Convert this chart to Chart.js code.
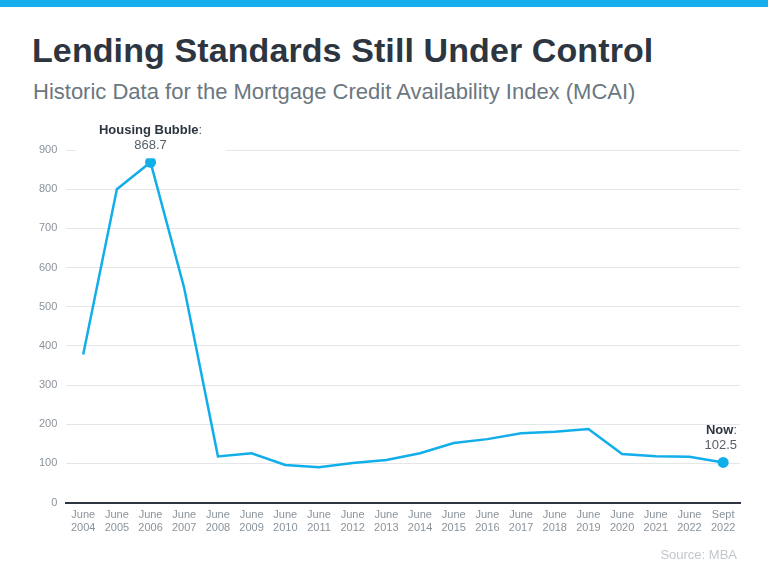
<!DOCTYPE html>
<html>
<head>
<meta charset="utf-8">
<script src="https://cdn.jsdelivr.net/npm/chart.js@4"></script>
<style>
  body { margin: 0; width: 768px; height: 576px; background: #fff; position: relative; overflow: hidden; font-family: "Liberation Sans", Arial, sans-serif; }
  .topbar { position: absolute; left: 0; top: 0; width: 768px; height: 7px; background: #16aeec; }
  h1 { position: absolute; left: 32px; top: 31px; margin: 0; font-size: 34px; font-weight: bold; color: #2d3640; letter-spacing: 0.1px; white-space: nowrap; }
  h2 { position: absolute; left: 33px; top: 79px; margin: 0; font-size: 22px; font-weight: normal; color: #6b7780; letter-spacing: 0; white-space: nowrap; }
  .source { position: absolute; right: 31px; top: 547px; font-size: 13px; color: #c3c7cb; }
  #wrap { position: absolute; left: 0; top: 0; width: 768px; height: 576px; }
</style>
</head>
<body>
<div class="topbar"></div>
<h1>Lending Standards Still Under Control</h1>
<h2>Historic Data for the Mortgage Credit Availability Index (MCAI)</h2>
<div id="wrap"><canvas id="mcaiChart"></canvas></div>
<div class="source">Source: MBA</div>
<script>
// ============================
// DATA
// ============================

const periods = [
    ['June', '2004'], ['June', '2005'], ['June', '2006'], ['June', '2007'],
    ['June', '2008'], ['June', '2009'], ['June', '2010'], ['June', '2011'],
    ['June', '2012'], ['June', '2013'], ['June', '2014'], ['June', '2015'],
    ['June', '2016'], ['June', '2017'], ['June', '2018'], ['June', '2019'],
    ['June', '2020'], ['June', '2021'], ['June', '2022'], ['Sept', '2022']
];

const mcai = [378, 800, 868.7, 547, 118, 126, 96, 90, 101, 109,
              126, 152, 162, 177, 181, 188, 124, 118, 117, 102.5];

const yTicks = [0, 100, 200, 300, 400, 500, 600, 700, 800, 900];

const callouts = [
    { index: 2, title: 'Housing Bubble', align: 'center' },
    { index: 19, title: 'Now', align: 'right' }
];

const blue = '#12aeea';

// ============================
// CALLOUT LABELS
// ============================

const calloutPlugin = {
    id: 'callouts',
    afterDatasetsDraw(chart) {
        const ctx = chart.ctx;
        const x = chart.scales.x;
        const y = chart.scales.y;
        const bold = 'bold 13px "Liberation Sans", Arial, sans-serif';
        const plain = '13px "Liberation Sans", Arial, sans-serif';
        ctx.save();
        callouts.forEach(c => {
            const px = x.getPixelForValue(c.index);
            const py = y.getPixelForValue(mcai[c.index]);
            const valueText = String(mcai[c.index]);
            ctx.font = bold;
            const tW = ctx.measureText(c.title).width;
            ctx.font = plain;
            const cW = ctx.measureText(':').width;
            const vW = ctx.measureText(valueText).width;
            const full = tW + cW;
            let left, vLeft;
            if (c.align === 'center') {
                left = px - full / 2;
                vLeft = px - vW / 2;
            } else {
                left = chart.chartArea.right - full - 3;
                vLeft = chart.chartArea.right - vW - 3;
            }
            const titleY = py - 32;
            const valueY = py - 17;
            if (c.align === 'center') {
                ctx.fillStyle = '#fff';
                ctx.fillRect(px - 75, titleY - 10, 150, 38);
            }
            ctx.textBaseline = 'middle';
            ctx.textAlign = 'left';
            ctx.font = bold;
            ctx.fillStyle = '#2d3640';
            ctx.fillText(c.title, left, titleY);
            ctx.font = plain;
            ctx.fillStyle = '#55606a';
            ctx.fillText(':', left + tW, titleY);
            ctx.fillText(valueText, vLeft, valueY);
        });
        ctx.restore();
    }
};

// ============================
// MCAI LINE
// ============================

const mcaiCtx = document.getElementById('mcaiChart');

new Chart(mcaiCtx, {

    type: 'line',

    data: {
        labels: periods,
        datasets: [{
            label: 'MCAI',
            data: mcai,
            borderColor: blue,
            backgroundColor: blue,
            borderWidth: 2.5,
            tension: 0,
            pointRadius: mcai.map((v, i) => callouts.some(c => c.index === i) ? 5.5 : 0),
            pointHoverRadius: 0,
            pointBorderWidth: 0
        }]
    },

    options: {
        responsive: true,
        maintainAspectRatio: false,
        animation: false,
        layout: {
            padding: { top: 150, left: 30, right: 28, bottom: 35 }
        },
        plugins: {
            legend: { display: false },
            tooltip: { enabled: false }
        },
        scales: {
            x: {
                offset: true,
                grid: { display: false, drawTicks: false },
                border: { color: '#2d3640', width: 2 },
                ticks: {
                    color: '#8a939b',
                    font: { size: 11, family: '"Liberation Sans", Arial, sans-serif' },
                    padding: 6,
                    maxRotation: 0,
                    autoSkip: false
                }
            },
            y: {
                min: 0,
                max: 900,
                afterBuildTicks(axis) {
                    axis.ticks = yTicks.map(v => ({ value: v }));
                },
                grid: { color: '#e4e6e8', drawTicks: false },
                border: { display: false },
                ticks: {
                    color: '#8a939b',
                    font: { size: 11, family: '"Liberation Sans", Arial, sans-serif' },
                    padding: 9
                }
            }
        }
    },

    plugins: [calloutPlugin]

});
</script>
</body>
</html>
